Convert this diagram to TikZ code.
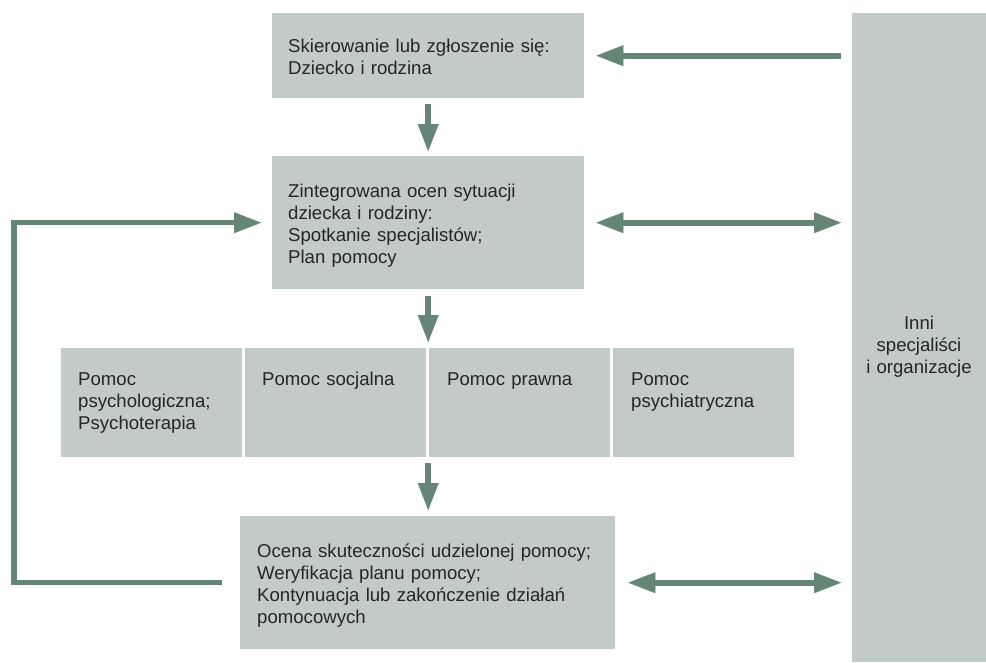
\documentclass[tikz,border=0pt]{standalone}
\usepackage{fontspec}
\setmainfont{Liberation Sans}
\usetikzlibrary{arrows.meta}
\definecolor{boxgrey}{RGB}{195,203,198}
\definecolor{arrowgreen}{RGB}{101,134,118}
\definecolor{txtcol}{RGB}{38,38,38}
\tikzset{
  tip/.tip={Triangle[length=27pt,width=21pt,line width=0.1pt]},
  greybox/.style={fill=boxgrey, draw=none, inner sep=0pt, anchor=north west},
  boxtext/.style={anchor=base west, inner sep=0pt, align=left, text width=360pt,
    text=txtcol, font=\fontsize{18.6pt}{22pt}\selectfont},
  arr/.style={draw=arrowgreen, line width=6pt, -tip},
  darr/.style={draw=arrowgreen, line width=6pt, tip-tip},
  backline/.style={draw=arrowgreen, line width=5.5pt, -tip}
}
\begin{document}
\begin{tikzpicture}[x=1pt,y=-1pt]
\useasboundingbox (0,0) rectangle (986,662);
% boxes
\node[greybox, minimum width=312pt, minimum height=85pt] (b1) at (272,13) {};
\node[greybox, minimum width=312pt, minimum height=133pt] (b2) at (272,156) {};
\node[greybox, minimum width=181pt, minimum height=109pt] (rA) at (61,348) {};
\node[greybox, minimum width=181pt, minimum height=109pt] (rB) at (245,348) {};
\node[greybox, minimum width=181pt, minimum height=109pt] (rC) at (429,348) {};
\node[greybox, minimum width=181pt, minimum height=109pt] (rD) at (613,348) {};
\node[greybox, minimum width=375pt, minimum height=133pt] (b4) at (240,516) {};
\node[greybox, minimum width=134pt, minimum height=649pt] (rb) at (852,13) {};
% texts
\node[boxtext] (t1) at (288,52) {Skierowanie lub zgłoszenie się:\\Dziecko i rodzina};
\node[boxtext] (t2) at (288,197) {Zintegrowana ocen sytuacji\\dziecka i rodziny:\\Spotkanie specjalistów;\\Plan pomocy};
\node[boxtext] (tA) at (78,385) {Pomoc\\psychologiczna;\\Psychoterapia};
\node[boxtext] (tB) at (262,385) {Pomoc socjalna};
\node[boxtext] (tC) at (447,385) {Pomoc prawna};
\node[boxtext] (tD) at (631,385) {Pomoc\\psychiatryczna};
\node[boxtext] (t4) at (257,557) {Ocena skuteczności udzielonej pomocy;\\Weryfikacja planu pomocy;\\Kontynuacja lub zakończenie działań\\pomocowych};
\node[boxtext, anchor=base, align=center, text width=134pt] (trb) at (919,329) {Inni\\specjaliści\\i organizacje};
% connectors
\draw[arr, shorten <=6pt, shorten >=5pt] (b1.south) -- (b2.north);
\draw[arr, shorten <=7pt, shorten >=6pt] (b2.south) -- (b2.south |- rA.north);
\draw[arr, shorten <=6pt, shorten >=6pt] (b2.south |- rA.south) -- (b2.south |- b4.north);
\draw[arr, shorten <=11pt, shorten >=12pt] (b1.east -| rb.west) -- (b1.east);
\draw[darr, shorten <=12pt, shorten >=11pt] (b2.east) -- (b2.east -| rb.west);
\draw[darr, shorten <=13pt, shorten >=11pt] (b4.east) -- (b4.east -| rb.west);
\coordinate (lx) at (14,0);
\draw[backline, shorten <=18pt, shorten >=11pt] (b4.west) -- (b4.west -| lx) |- (b2.west);
\end{tikzpicture}
\end{document}
